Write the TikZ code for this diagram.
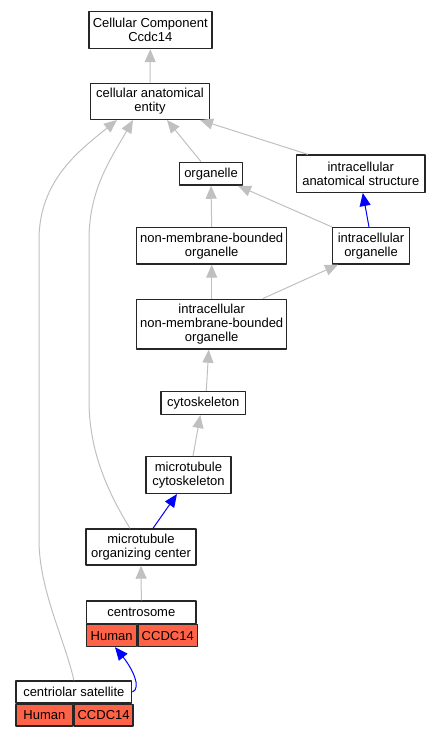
\documentclass[tikz,border=0pt]{standalone}
\usepackage{fontspec}
\setmainfont{Liberation Sans}
\usetikzlibrary{arrows.meta}
\usetikzlibrary{positioning}
\definecolor{edgegray}{RGB}{192,192,192}
\definecolor{tomato}{RGB}{255,99,71}

\begin{document}
\begin{tikzpicture}[x=1pt, y=-1pt, line join=round,
    term/.style={draw=black!85, line width=1.4pt, fill=white, inner sep=0pt,
    align=center, font=\fontsize{13}{14}\selectfont},
    cell/.style={term, fill=tomato, minimum height=21.7pt, anchor=north west},
    isa/.style={draw=edgegray, line width=1pt, -{Triangle[length=13pt,width=11pt]}},
    partof/.style={isa, draw=blue, -{Triangle[length=13pt,width=11pt]}}]

    \useasboundingbox (0,0) rectangle (441,736);

    \node[term, minimum width=123pt, minimum height=37pt] (cc) at (150.3,30) {Cellular Component\\Ccdc14};
    \node[term, minimum width=118.6pt, minimum height=36pt] (cae) at (150,101.3) {cellular anatomical\\entity};
    \node[term, minimum width=63.4pt, minimum height=22.7pt] (org) at (211,173.7) {organelle};
    \node[term, minimum width=128.3pt, minimum height=37.3pt] (ias) at (360.8,173.7) {intracellular\\anatomical structure};
    \node[term, minimum width=150pt, minimum height=36.3pt] (nmbo) at (211.7,245.8) {non-membrane-bounded\\organelle};
    \node[term, minimum width=76.7pt, minimum height=36.3pt] (io) at (371,245.8) {intracellular\\organelle};
    \node[term, minimum width=150pt, minimum height=49.7pt] (inmbo) at (211.7,324.2) {intracellular\\non-membrane-bounded\\organelle};
    \node[term, minimum width=84.7pt, minimum height=22.7pt] (cyto) at (203.3,403) {cytoskeleton};
    \node[term, minimum width=85pt, minimum height=36.7pt] (mtc) at (188.5,475) {microtubule\\cytoskeleton};
    \node[term, minimum width=110pt, minimum height=36pt] (moc) at (141,547) {microtubule\\organizing center};

    % annotated terms
    \node[term, minimum width=109.3pt, minimum height=22.3pt] (cent) at (141.35,612.2) {centrosome};
    \node[cell, minimum width=50pt] (centH) at (cent.south west) {Human};
    \node[cell, minimum width=59.3pt] (centC) at (centH.north east) {CCDC14};

    \node[term, minimum width=115.7pt, minimum height=22pt] (sat) at (73.85,692) {centriolar satellite};
    \node[cell, minimum width=56.7pt] (satH) at (sat.south west) {Human};
    \node[cell, minimum width=59pt] (satC) at (satH.north east) {CCDC14};

    \draw[isa] (cae.north) -- (cc.south);
    \draw[isa] ([xshift=-10pt]org.north) -- ([xshift=17pt]cae.south);
    \draw[isa] ([xshift=-53pt]ias.north) -- ([xshift=50pt]cae.south);
    \draw[isa] (io.north west) -- ([xshift=27pt]org.south);
    \draw[isa] (nmbo.north) -- (org.south);
    \draw[partof] ([xshift=-2pt]io.north) -- ([xshift=2pt]ias.south);
    \draw[isa] (inmbo.north) -- (nmbo.south);
    \draw[isa] ([xshift=51pt]inmbo.north) -- ([xshift=-33pt]io.south);
    \draw[isa] ([xshift=3pt]cyto.north) -- ([xshift=-3pt]inmbo.south);
    \draw[isa] ([xshift=4.5pt]mtc.north) -- ([xshift=-3pt]cyto.south);
    \draw[partof] ([xshift=12pt]moc.north) -- ([xshift=-11.5pt]mtc.south);
    \draw[isa] (cent.north) -- (moc.south);

    % long edges up to the root term
    \draw[isa] ([xshift=-11pt]moc.north) .. controls (100,480) and (89,440) .. (89,400)
        -- (89,240) .. controls (89,190) and (110,160) .. ([xshift=-17pt]cae.south);
    \draw[isa] (sat.north) .. controls (65,640) and (39,590) .. (39,540)
        -- (39,240) .. controls (39,180) and (80,150) .. ([xshift=-33pt]cae.south);

    \draw[partof] (sat.east) .. controls (142,688) and (132,668) .. ([xshift=3.3pt]centH.south);
  \end{tikzpicture}
\end{document}
